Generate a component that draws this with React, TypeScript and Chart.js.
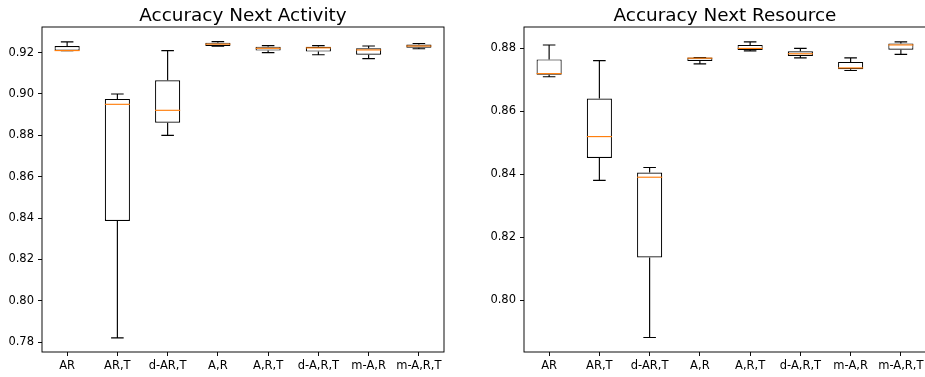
import React, { useEffect, useRef } from 'react';
import { Chart, registerables } from 'chart.js';

Chart.register(...registerables);

const categories = ['AR', 'AR,T', 'd-AR,T', 'A,R', 'A,R,T', 'd-A,R,T', 'm-A,R', 'm-A,R,T'];

// Accuracy Next Activity
const actMin = [0.921, 0.782, 0.880, 0.9231, 0.920, 0.919, 0.9171, 0.9219];
const actQ1 = [0.921, 0.8386, 0.8861, 0.9232, 0.921, 0.9205, 0.919, 0.9224];
const actMed = [0.921, 0.895, 0.8921, 0.9241, 0.9221, 0.9223, 0.9213, 0.9232];
const actQ3 = [0.9232, 0.8976, 0.9066, 0.9248, 0.9229, 0.9228, 0.9221, 0.9239];
const actMax = [0.9252, 0.900, 0.921, 0.9253, 0.9234, 0.9234, 0.9232, 0.9244];
const actTicks = [0.78, 0.80, 0.82, 0.84, 0.86, 0.88, 0.90, 0.92];
const actRange = [0.7752, 0.9324];

// Accuracy Next Resource
const resMin = [0.8709, 0.838, 0.7881, 0.875, 0.8791, 0.8769, 0.8729, 0.878];
const resQ1 = [0.8715, 0.8451, 0.8135, 0.8759, 0.8794, 0.8775, 0.8733, 0.8795];
const resMed = [0.8719, 0.8519, 0.839, 0.8768, 0.8799, 0.8782, 0.8737, 0.881];
const resQ3 = [0.8764, 0.864, 0.8405, 0.877, 0.881, 0.879, 0.8756, 0.8815];
const resMax = [0.881, 0.876, 0.8421, 0.877, 0.882, 0.8799, 0.8769, 0.882];
const resTicks = [0.80, 0.82, 0.84, 0.86, 0.88];
const resRange = [0.7835, 0.8867];

const FONT = 'DejaVu Sans';
const LW = 1.15;

const boxPlugin = {
  id: 'boxExtras',
  afterDatasetsDraw(chart: any, _args: any, opts: any) {
    const { ctx, scales } = chart;
    const x = scales.x;
    const y = scales.y;
    const meta = chart.getDatasetMeta(0);
    ctx.save();
    ctx.lineWidth = LW;
    for (let i = 0; i < opts.min.length; i++) {
      const el: any = meta.data[i];
      const w = el.getProps(['width'], true).width;
      const cx = x.getPixelForValue(i);
      const yMin = y.getPixelForValue(opts.min[i]);
      const yQ1 = y.getPixelForValue(opts.q1[i]);
      const yMed = y.getPixelForValue(opts.med[i]);
      const yQ3 = y.getPixelForValue(opts.q3[i]);
      const yMax = y.getPixelForValue(opts.max[i]);
      ctx.strokeStyle = '#000';
      ctx.beginPath();
      ctx.moveTo(cx, yQ1);
      ctx.lineTo(cx, yMin);
      ctx.moveTo(cx, yQ3);
      ctx.lineTo(cx, yMax);
      ctx.moveTo(cx - w / 4, yMin);
      ctx.lineTo(cx + w / 4, yMin);
      ctx.moveTo(cx - w / 4, yMax);
      ctx.lineTo(cx + w / 4, yMax);
      ctx.stroke();
      ctx.strokeStyle = '#ff7f0e';
      ctx.beginPath();
      ctx.moveTo(cx - w / 2, yMed);
      ctx.lineTo(cx + w / 2, yMed);
      ctx.stroke();
    }
    ctx.restore();
  },
  afterDraw(chart: any, _args: any, opts: any) {
    const { ctx, chartArea } = chart;
    ctx.save();
    ctx.strokeStyle = '#000';
    ctx.lineWidth = 0.95;
    ctx.strokeRect(chartArea.left, chartArea.top, chartArea.right - chartArea.left, chartArea.bottom - chartArea.top);
    ctx.fillStyle = '#000';
    ctx.font = `18.4px "${FONT}"`;
    ctx.textAlign = 'center';
    ctx.textBaseline = 'alphabetic';
    ctx.fillText(opts.title, (chartArea.left + chartArea.right) / 2, 20.5);
    ctx.restore();
  },
};

type PanelProps = {
  title: string;
  min: number[];
  q1: number[];
  med: number[];
  q3: number[];
  max: number[];
  ticks: number[];
  range: number[];
  width: number;
  axisWidth: number;
  padRight: number;
};

function BoxPanel(p: PanelProps) {
  const ref = useRef<HTMLCanvasElement>(null);
  useEffect(() => {
    if (!ref.current) return;
    const chart = new Chart(ref.current, {
      type: 'bar',
      data: {
        labels: categories,
        datasets: [
          {
            data: p.q1.map((v, i) => [v, p.q3[i]]) as any,
            backgroundColor: '#ffffff',
            borderColor: '#000000',
            borderWidth: LW,
            borderSkipped: false,
            categoryPercentage: 1,
            barPercentage: 0.5,
          },
        ],
      },
      options: {
        responsive: false,
        animation: false,
        devicePixelRatio: 1,
        layout: { padding: { top: 27, right: p.padRight, bottom: 0, left: 0 } },
        plugins: {
          legend: { display: false },
          tooltip: { enabled: false },
          title: { display: false },
          boxExtras: { title: p.title, min: p.min, q1: p.q1, med: p.med, q3: p.q3, max: p.max },
        } as any,
        scales: {
          x: {
            type: 'category',
            offset: true,
            grid: {
              display: true,
              offset: false,
              drawOnChartArea: false,
              drawTicks: true,
              tickLength: 4,
              color: '#000',
              lineWidth: 0.95,
            },
            border: { display: false },
            ticks: {
              color: '#000',
              font: { family: FONT, size: 11.5 },
              padding: 3,
              maxRotation: 0,
              autoSkip: false,
            },
            afterFit: (s: any) => {
              s.height = 25;
            },
          },
          y: {
            type: 'linear',
            min: p.range[0],
            max: p.range[1],
            grid: {
              display: true,
              drawOnChartArea: false,
              drawTicks: true,
              tickLength: 4,
              color: '#000',
              lineWidth: 0.95,
            },
            border: { display: false },
            ticks: {
              color: '#000',
              font: { family: FONT, size: 11.5 },
              padding: 4,
              callback: (v: any) => Number(v).toFixed(2),
            },
            afterBuildTicks: (s: any) => {
              s.ticks = p.ticks.map((v) => ({ value: v }));
            },
            afterFit: (s: any) => {
              s.width = p.axisWidth;
            },
          },
        },
      } as any,
      plugins: [boxPlugin as any],
    });
    return () => chart.destroy();
  }, []);
  return <canvas ref={ref} width={p.width} height={377} style={{ display: 'block' }} />;
}

export default function App() {
  return (
    <div
      style={{
        position: 'fixed',
        left: 0,
        top: 0,
        width: 925,
        height: 377,
        overflow: 'hidden',
        background: '#fff',
      }}
    >
      <div style={{ position: 'absolute', left: 0, top: 0 }}>
        <BoxPanel
          title="Accuracy Next Activity"
          min={actMin}
          q1={actQ1}
          med={actMed}
          q3={actQ3}
          max={actMax}
          ticks={actTicks}
          range={actRange}
          width={460}
          axisWidth={42}
          padRight={16}
        />
      </div>
      <div style={{ position: 'absolute', left: 460, top: 0 }}>
        <BoxPanel
          title="Accuracy Next Resource"
          min={resMin}
          q1={resQ1}
          med={resMed}
          q3={resQ3}
          max={resMax}
          ticks={resTicks}
          range={resRange}
          width={470}
          axisWidth={64}
          padRight={4}
        />
      </div>
    </div>
  );
}
